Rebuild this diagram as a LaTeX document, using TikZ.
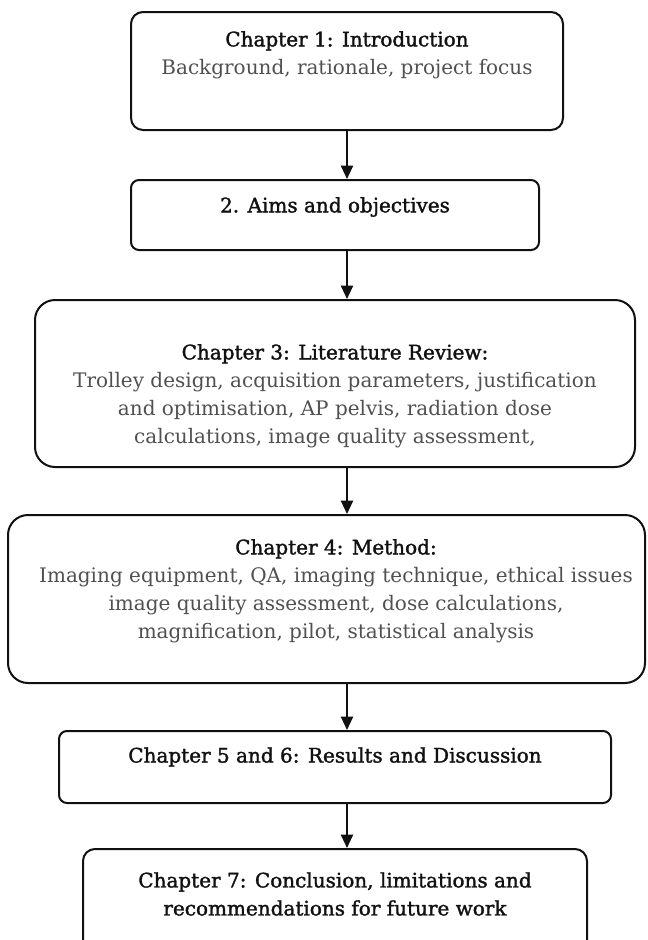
\documentclass[tikz,border=0pt]{standalone}
\usepackage{fontspec}
\setmainfont{DejaVu Serif}
\newfontfamily\ttlfont{DejaVu Serif}[FakeBold=1.6]
\usetikzlibrary{arrows.meta,positioning}
\usepackage{xcolor}
\definecolor{fcInk}{HTML}{111111}
\definecolor{fcBody}{HTML}{505050}
\newcommand{\chapttl}[1]{{\ttlfont\color{fcInk}#1}}
\tikzset{
  chap/.style={draw=fcInk, line width=1.5pt, rounded corners=#1, inner sep=0pt},
  chap/.default=9pt,
  txt/.style={align=center, inner sep=0pt, text=fcBody, font=\fontsize{15}{21}\selectfont},
  ttl/.style={txt, text=fcInk, font=\fontsize{15}{21}\selectfont\ttlfont},
  arr/.style={-{Triangle[length=10pt,width=9pt]}, line width=1.5pt, draw=fcInk},
}

\begin{document}
\begin{tikzpicture}[x=0.75pt, y=-0.75pt]
  \clip (0,0) rectangle (647,940);
  % chapter boxes
  \node[chap=9pt,  minimum width=324pt,   minimum height=88.5pt]   (c1) at (347,71)    {};
  \node[chap=6pt,  minimum width=306pt,   minimum height=52.5pt]   (c2) at (335,215)   {};
  \node[chap=15pt, minimum width=450pt,   minimum height=125.25pt] (c3) at (335,383.5) {};
  \node[chap=15pt, minimum width=477.75pt,minimum height=126pt]    (c4) at (326.5,599) {};
  \node[chap=6pt,  minimum width=414pt,   minimum height=54pt]     (c5) at (335,767)   {};
  \node[chap=9pt,  minimum width=378pt,   minimum height=94.5pt]   (c6) at (335,912)   {};
  % texts
  \node[txt] (t1) at (347,55) {\chapttl{Chapter 1: Introduction}\\Background, rationale, project focus};
  \node[ttl] (t2) at (335,207) {2. Aims and objectives};
  \node[txt] (t3) at (335,396) {\chapttl{Chapter 3: Literature Review:}\\Trolley design, acquisition parameters, justification\\and optimisation, AP pelvis, radiation dose\\calculations, image quality assessment,};
  \node[txt] (t4) at (336,591) {\chapttl{Chapter 4: Method:}\\Imaging equipment, QA, imaging technique, ethical issues\\image quality assessment, dose calculations,\\magnification, pilot, statistical analysis};
  \node[ttl] (t5) at (335,757) {Chapter 5 and 6: Results and Discussion};
  \node[ttl] (t6) at (335,894) {Chapter 7: Conclusion, limitations and\\recommendations for future work};
  % arrows
  \draw[arr] (c1.south) -- (c1.south |- c2.north);
  \foreach \a/\b in {c2/c3,c3/c4,c4/c5,c5/c6}
    \draw[arr] (c1.south |- \a.south) -- (c1.south |- \b.north);
\end{tikzpicture}
\end{document}
